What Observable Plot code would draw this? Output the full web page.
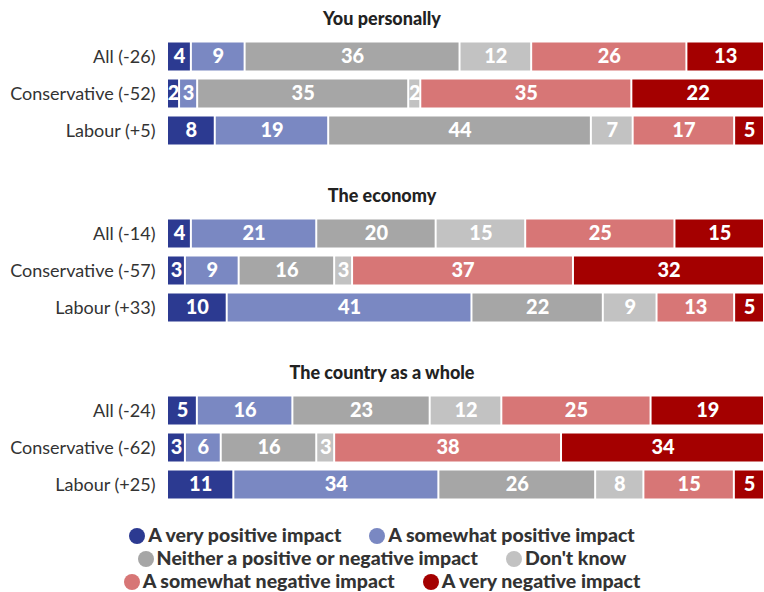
<!DOCTYPE html>
<html>
<head>
<meta charset="utf-8">
<script src="https://cdn.jsdelivr.net/npm/d3@7"></script>
<script src="https://cdn.jsdelivr.net/npm/@observablehq/plot@0.6"></script>
<style>
  html, body { margin: 0; padding: 0; background: #fff; }
  body { width: 764px; font-family: Lato, "Open Sans", sans-serif; color: #333; }
  .title { height: 38px; line-height: 36px; text-align: center; font-weight: 900; font-size: 18px; color: #222; }
  .spacer { height: 28px; }
  .legend { margin-top: 20px; text-align: center; font-weight: 900; font-size: 19.5px; color: #333; }
  .legend .line { height: 23px; line-height: 23px; white-space: nowrap; }
  .legend .item { display: inline-block; margin: 0 14px; }
  .legend .dot { display: inline-block; width: 16px; height: 16px; border-radius: 50%; vertical-align: -2px; margin-right: 3px; }
  svg { display: block; }
</style>
</head>
<body>
<div id="chart"></div>
<script>
const panels = ["You personally", "The economy", "The country as a whole"];
const groups = [
  ["All (-26)", "Conservative (-52)", "Labour (+5)"],
  ["All (-14)", "Conservative (-57)", "Labour (+33)"],
  ["All (-24)", "Conservative (-62)", "Labour (+25)"]
];
const responses = [
  "A very positive impact",
  "A somewhat positive impact",
  "Neither a positive or negative impact",
  "Don't know",
  "A somewhat negative impact",
  "A very negative impact"
];
const colors = ["#2c3a91", "#7a88c2", "#a6a6a6", "#c2c2c2", "#d77676", "#a40000"];
const personalValues = [[4, 9, 36, 12, 26, 13], [2, 3, 35, 2, 35, 22], [8, 19, 44, 7, 17, 5]];
const economyValues = [[4, 21, 20, 15, 25, 15], [3, 9, 16, 3, 37, 32], [10, 41, 22, 9, 13, 5]];
const countryValues = [[5, 16, 23, 12, 25, 19], [3, 6, 16, 3, 38, 34], [11, 34, 26, 8, 15, 5]];
const legendLines = [[0, 1], [2, 3], [4, 5]];

const panelValues = [personalValues, economyValues, countryValues];
const root = document.getElementById("chart");

panels.forEach((title, p) => {
  const rows = [];
  groups[p].forEach((g, gi) => {
    responses.forEach((r, ri) => rows.push({group: g, response: r, value: panelValues[p][gi][ri]}));
  });
  const t = document.createElement("div");
  t.className = "title";
  t.textContent = title;
  root.appendChild(t);

  const chart = Plot.plot({
    width: 764,
    height: 111,
    marginLeft: 167,
    marginRight: 0,
    marginTop: 0,
    marginBottom: 0,
    style: {fontFamily: "Lato, sans-serif", fontSize: "18px", color: "#333", background: "#fff"},
    x: {axis: null, domain: [0, 1]},
    y: {domain: groups[p], padding: 0, label: null, tickSize: 0, tickPadding: 12},
    color: {domain: responses, range: colors},
    marks: [
      Plot.barX(rows, Plot.stackX({
        x: "value", y: "group", fill: "response", order: responses, offset: "normalize",
        insetTop: 4.5, insetBottom: 4.5, insetLeft: 1, insetRight: 1
      })),
      Plot.text(rows, Plot.stackX({
        x: "value", y: "group", z: "response", order: responses, offset: "normalize",
        text: "value", fill: "white", fontWeight: 900, fontSize: 20
      }))
    ]
  });
  root.appendChild(chart);
  const s = document.createElement("div");
  s.className = p < panels.length - 1 ? "spacer" : "";
  root.appendChild(s);
});

const legend = document.createElement("div");
legend.className = "legend";
legendLines.forEach(line => {
  const l = document.createElement("div");
  l.className = "line";
  line.forEach(i => {
    const item = document.createElement("span");
    item.className = "item";
    const dot = document.createElement("span");
    dot.className = "dot";
    dot.style.background = colors[i];
    item.appendChild(dot);
    item.appendChild(document.createTextNode(responses[i]));
    l.appendChild(item);
  });
  legend.appendChild(l);
});
root.appendChild(legend);
</script>
</body>
</html>
